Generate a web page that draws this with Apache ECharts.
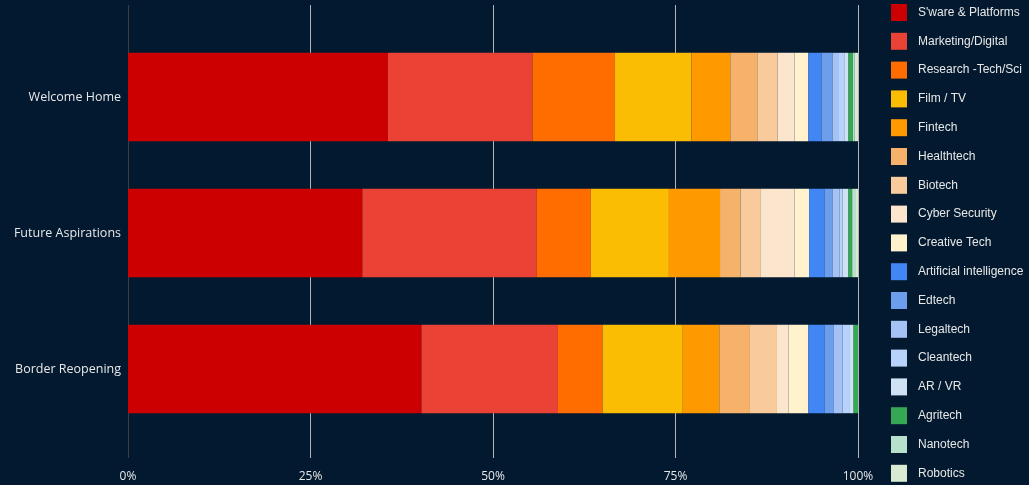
<!DOCTYPE html>
<html>
<head>
<meta charset="utf-8">
<script src="https://cdn.jsdelivr.net/npm/echarts@6/dist/echarts.min.js"></script>
<style>
  html, body { margin: 0; padding: 0; background: #02192f; }
  #chart { width: 1029px; height: 485px; }
</style>
</head>
<body>
<div id="chart"></div>
<script>
// Survey groups, top to bottom
const categories = ['Welcome Home', 'Future Aspirations', 'Border Reopening'];

// Sector names and their fills
const sectors = [
  "S'ware & Platforms", 'Marketing/Digital', 'Research -Tech/Sci', 'Film / TV',
  'Fintech', 'Healthtech', 'Biotech', 'Cyber Security', 'Creative Tech',
  'Artificial intelligence', 'Edtech', 'Legaltech', 'Cleantech', 'AR / VR',
  'Agritech', 'Nanotech', 'Robotics'
];
const sectorColors = [
  '#cc0000', '#ea4335', '#ff6d01', '#fbbc04',
  '#ff9900', '#f6b26b', '#f9cb9c', '#fce5cd', '#fff2cc',
  '#4285f4', '#6d9eeb', '#a4c2f4', '#b7d3fb', '#cfe2f3',
  '#34a853', '#b7e1cd', '#d9ead3'
];

// Share of respondents (%) per sector, in the order of `sectors`
const welcomeHome       = [35.6, 19.8, 11.3, 10.5, 5.3, 3.7, 2.8, 2.3, 1.9, 1.8, 1.5, 0.9, 0.8, 0.5, 0.6, 0.2, 0.5];
const futureAspirations = [32.1, 23.9, 7.4, 10.7, 7.0, 2.8, 2.8, 4.6, 2.0, 2.1, 1.1, 1.0, 0.4, 0.8, 0.5, 0.4, 0.4];
const borderReopening   = [40.2, 18.7, 6.1, 11.0, 5.0, 4.2, 3.7, 1.6, 2.7, 2.2, 1.3, 1.2, 1.0, 0.5, 0.6, 0.0, 0.0];

// Percentage axis ticks
const xTicks = [0, 25, 50, 75, 100];

const groups = [welcomeHome, futureAspirations, borderReopening];

const chart = echarts.init(document.getElementById('chart'));

const series = sectors.map((name, i) => ({
  name: name,
  type: 'bar',
  stack: 'share',
  xAxisIndex: 1,
  yAxisIndex: 1,
  barWidth: '65%',
  itemStyle: { color: sectorColors[i] },
  emphasis: { disabled: true },
  data: groups.map(g => g[i])
}));

chart.setOption({
  backgroundColor: '#02192f',
  animation: false,
  legend: {
    orient: 'vertical',
    left: 891,
    top: 4,
    padding: 0,
    icon: 'rect',
    itemWidth: 16,
    itemHeight: 17,
    itemGap: 11.8,
    itemStyle: { borderWidth: 0 },
    data: sectors,
    textStyle: {
      color: '#e8e8e8',
      fontFamily: 'Liberation Sans, Arial, sans-serif',
      fontSize: 12,
      padding: [0, 0, 0, 6]
    }
  },
  grid: [
    // full-height frame carrying the vertical gridlines and percentage labels
    { left: 128, right: 171, top: 5, bottom: 27 },
    // bar area, padded above and below
    { left: 128, right: 171, top: 29, bottom: 48 }
  ],
  xAxis: [
    {
      gridIndex: 0,
      type: 'value',
      min: xTicks[0],
      max: xTicks[xTicks.length - 1],
      interval: 25,
      axisLine: { show: false },
      axisTick: { show: false },
      axisLabel: {
        color: '#e8e8e8',
        fontFamily: 'Open Sans, sans-serif',
        fontSize: 12,
        margin: 13,
        formatter: v => v + '%'
      },
      splitLine: {
        show: true,
        lineStyle: { color: ['#3a3f46', '#b4b4b4', '#b4b4b4', '#b4b4b4', '#b4b4b4'], width: 1 }
      }
    },
    {
      gridIndex: 1,
      type: 'value',
      min: xTicks[0],
      max: xTicks[xTicks.length - 1],
      show: false
    }
  ],
  yAxis: [
    {
      gridIndex: 0,
      type: 'category',
      data: categories,
      show: false
    },
    {
      gridIndex: 1,
      type: 'category',
      inverse: true,
      data: categories,
      axisLine: { show: false },
      axisTick: { show: false },
      splitLine: { show: false },
      axisLabel: {
        color: '#e8e8e8',
        fontFamily: 'Open Sans, sans-serif',
        fontSize: 12.5,
        margin: 7
      }
    }
  ],
  series: series
});
</script>
</body>
</html>
